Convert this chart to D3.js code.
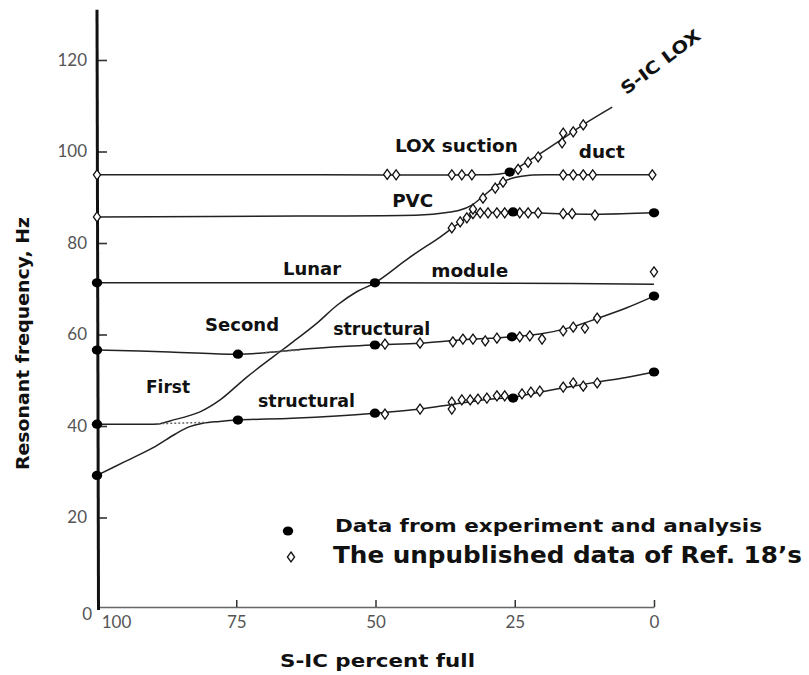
<!DOCTYPE html>
<html>
<head>
<meta charset="utf-8">
<script src="https://cdn.jsdelivr.net/npm/d3@7"></script>
<style>
  html, body { margin: 0; padding: 0; background: #fff; }
  svg { display: block; }
  .tick text { font-family: Lato, "DejaVu Sans", sans-serif; fill: #555; }
</style>
</head>
<body>
<svg id="chart" width="809" height="675"></svg>
<script>
// Axis ticks
const pctTicks = [100, 75, 50, 25, 0];
const hzTicks = [0, 20, 40, 60, 80, 100, 120];

// Mode curves: [S-IC percent full, resonant frequency Hz]
const firstStructural = [[100,29.2],[95,32.2],[90,35.2],[86,38.2],[83.5,39.8],[81,40.6],[78,41.0],[74.7,41.3],
  [65,41.7],[57,42.2],[50.1,42.8],[42,43.7],[36.3,44.7],[30,45.8],[25.3,46.3],[20.5,47.4],[15.1,48.6],[10.2,49.6],[5,50.6],[0,51.8]];
const secondStructural = [[100,56.6],[87,56.2],[74.7,55.7],[68.9,56.1],[63.6,56.7],[58.2,57.2],[50.1,57.7],[42,58.1],
  [34.8,58.8],[25.5,59.5],[20.5,60.1],[15.1,61.5],[10.2,63.5],[5,65.8],[0,68.4]];
const risingMode = [[100,40.4],[92,40.4],[88.7,40.5],[86.9,41.1],[81.5,43.1],[77.9,45.7],[73.1,50.7],[68.4,55.1],[64.8,58.4],
  [60.5,62.5],[56.9,66.4],[53.3,69.4],[50.1,71.3],[43.8,76.9],[38.4,81.3],[36.3,83.2],[34.5,84.8],[33,85.9],[31.2,86.5],
  [28,86.7],[24.1,86.7],[16.9,86.4],[9.7,86.3],[0,86.6]];
const lunarModule = [[100,71.3],[75,71.3],[50.1,71.3],[25,71.2],[0,71.0]];
const pvcMode = [[100,85.7],[63.6,85.9],[42,86.1],[37.5,86.6],[34.8,87.2],[32.7,88.3],[30.7,90.2],[28.9,92.0],
  [27.1,93.4],[25,94.3],[22.3,94.8],[18,94.9],[0,94.9]];
const loxSuction = [[100,94.9],[60,94.9],[31.2,94.9],[27.6,95.1],[25.9,95.5],[24.1,96.7],[20.5,99.5],[16.9,102.4],
  [12.4,106.1],[7.5,109.7]];
const uncoupledDotted = [[[89,40.5],[80.5,40.8]], [[70.5,56.0],[63.5,56.6]]];

// Measured points
const experimentPts = [[100,71.3],[100,56.6],[100,40.4],[100,29.2],[74.7,55.7],[74.7,41.3],
  [50.1,71.3],[50.1,57.7],[50.1,42.8],[25.9,95.5],[25.3,86.8],[25.5,59.5],[25.3,46.1],
  [0,86.6],[0,68.4],[0,51.8]];
const refPts = [
  [100,94.9],[47.9,95.0],[46.3,94.9],[36.3,94.9],[34.5,94.9],[32.7,94.9],
  [16.3,94.9],[14.5,94.9],[12.7,94.9],[11.0,94.9],[0.3,94.9],
  [100,85.7],[36.3,83.3],[34.8,84.6],[33.6,85.5],[32.5,86.4],[31.2,86.6],[29.8,86.6],[28.2,86.6],[26.8,86.6],
  [24.1,86.6],[22.6,86.6],[20.8,86.6],[16.3,86.4],[14.7,86.4],[10.6,86.1],
  [32.5,87.4],[30.7,89.8],[28.5,92.0],[27.1,93.3],
  [24.4,96.1],[22.6,97.6],[20.8,98.8],[16.5,101.9],[16.3,104.0],[14.5,104.3],[12.7,105.8],
  [0,73.7],
  [48.3,57.9],[42.0,58.1],[36.1,58.4],[34.3,59.0],[32.5,59.0],[30.3,58.6],[28.2,59.2],[24.1,59.5],[22.3,59.7],
  [20.1,59.0],[16.3,60.8],[14.5,61.6],[12.4,61.4],[10.2,63.6],
  [48.3,42.6],[42.0,43.7],[36.3,45.2],[36.3,43.7],[34.5,45.7],[33.0,45.7],[31.6,45.9],[30.0,46.1],[28.2,46.6],
  [26.8,46.6],[23.7,47.0],[22.1,47.4],[20.5,47.6],[16.3,48.5],[14.5,49.4],[12.7,48.7],[10.2,49.4]
];

// Curve labels anchored in data units
const curveLabels = [
  {text: "LOX suction", p: 46.5, hz: 99.9, w: 123},
  {text: "duct", p: 13.5, hz: 98.6, w: 46},
  {text: "PVC", p: 47.0, hz: 87.9, w: 41},
  {text: "Lunar", p: 66.6, hz: 73.0, w: 58},
  {text: "module", p: 40.0, hz: 72.6, w: 77},
  {text: "Second", p: 80.6, hz: 60.8, w: 74},
  {text: "structural", p: 57.6, hz: 59.9, w: 97},
  {text: "First", p: 91.2, hz: 47.2, w: 44},
  {text: "structural", p: 71.1, hz: 44.2, w: 97}
];
const legendItems = ["Data from experiment and analysis", "The unpublished data of Ref. 18\u2019s"];

const svg = d3.select("#chart");
const x = d3.scaleLinear().domain([100, 0]).range([97, 654]);
const y = d3.scaleLinear().domain([0, 120]).range([609, 60]);

// X axis
const xAxis = svg.append("g")
  .attr("transform", `translate(0,${y(0) - 2})`)
  .call(d3.axisBottom(x).tickValues(pctTicks).tickSizeInner(-7).tickSizeOuter(0).tickPadding(9));
xAxis.select(".domain").attr("stroke", "#666").attr("stroke-width", 1.5);
xAxis.selectAll(".tick line").attr("stroke", "#333").attr("stroke-width", 1.5);
xAxis.selectAll(".tick text").attr("font-size", 17);
xAxis.selectAll(".tick").filter(d => d === 100).select("line").remove();
xAxis.selectAll(".tick").filter(d => d === 100).select("text").attr("x", 19);

// Y axis
const yAxis = svg.append("g")
  .attr("transform", `translate(${x(100)},0)`)
  .call(d3.axisLeft(y).tickValues(hzTicks).tickSizeInner(-10).tickSizeOuter(0).tickPadding(8));
yAxis.select(".domain").remove();
yAxis.selectAll(".tick line").attr("stroke", "#333").attr("stroke-width", 1.6);
yAxis.selectAll(".tick text").attr("font-size", 17).attr("x", -10);
yAxis.selectAll(".tick").filter(d => d === 0).select("line").remove();
yAxis.selectAll(".tick").filter(d => d === 0).select("text").attr("dy", "0.6em").attr("x", -5);
svg.append("line")
  .attr("x1", x(100)).attr("x2", x(100) + 1.5)
  .attr("y1", y(131)).attr("y2", y(0) + 1)
  .attr("stroke", "#111").attr("stroke-width", 3);

// Curves
const line = d3.line().x(d => x(d[0])).y(d => y(d[1])).curve(d3.curveCatmullRom.alpha(0.5));
const curves = [firstStructural, secondStructural, risingMode, lunarModule, pvcMode, loxSuction];
svg.append("g").selectAll("path").data(curves).join("path")
  .attr("d", line).attr("fill", "none").attr("stroke", "#222").attr("stroke-width", 1.5);
svg.append("g").selectAll("path").data(uncoupledDotted).join("path")
  .attr("d", d3.line().x(d => x(d[0])).y(d => y(d[1])))
  .attr("fill", "none").attr("stroke", "#666").attr("stroke-width", 1.5).attr("stroke-dasharray", "2,2");

// Markers
const diamond = "M0,-5L3.6,0L0,5L-3.6,0Z";
svg.append("g").selectAll("path").data(refPts).join("path")
  .attr("d", diamond)
  .attr("transform", d => `translate(${x(d[0])},${y(d[1])})`)
  .attr("fill", "#fff").attr("stroke", "#111").attr("stroke-width", 1.3);
svg.append("g").selectAll("ellipse").data(experimentPts).join("ellipse")
  .attr("cx", d => x(d[0])).attr("cy", d => y(d[1]))
  .attr("rx", 5.2).attr("ry", 4.6).attr("fill", "#000");

// Curve labels
const labelFont = "'DejaVu Sans', 'Open Sans', sans-serif";
svg.append("g").selectAll("text").data(curveLabels).join("text")
  .attr("x", d => x(d.p)).attr("y", d => y(d.hz))
  .attr("textLength", d => d.w).attr("lengthAdjust", "spacingAndGlyphs")
  .attr("font-family", labelFont).attr("font-weight", "bold").attr("font-size", 17)
  .attr("fill", "#111").text(d => d.text);
svg.append("text")
  .attr("transform", `translate(${x(5.0)},${y(112.3)}) rotate(-37)`)
  .attr("textLength", 95).attr("lengthAdjust", "spacingAndGlyphs")
  .attr("font-family", labelFont).attr("font-weight", "bold").attr("font-size", 17)
  .attr("fill", "#111").text("S-IC LOX");

// Axis titles
svg.append("text")
  .attr("transform", `translate(29,470) rotate(-90)`)
  .attr("textLength", 253).attr("lengthAdjust", "spacingAndGlyphs")
  .attr("font-family", labelFont).attr("font-weight", "bold").attr("font-size", 18)
  .attr("fill", "#111").text("Resonant frequency, Hz");
svg.append("text")
  .attr("x", 280).attr("y", 667)
  .attr("textLength", 195).attr("lengthAdjust", "spacingAndGlyphs")
  .attr("font-family", labelFont).attr("font-weight", "bold").attr("font-size", 18)
  .attr("fill", "#111").text("S-IC percent full");

// Legend
const lg = svg.append("g");
lg.append("ellipse").attr("cx", 288).attr("cy", 531).attr("rx", 5.2).attr("ry", 4.6).attr("fill", "#000");
lg.append("path").attr("d", diamond).attr("transform", "translate(291,557)")
  .attr("fill", "#fff").attr("stroke", "#111").attr("stroke-width", 1.3);
lg.append("text").attr("x", 335).attr("y", 532)
  .attr("textLength", 427).attr("lengthAdjust", "spacingAndGlyphs")
  .attr("font-family", labelFont).attr("font-weight", "bold").attr("font-size", 18)
  .attr("fill", "#111").text(legendItems[0]);
lg.append("text").attr("x", 333).attr("y", 563)
  .attr("textLength", 469).attr("lengthAdjust", "spacingAndGlyphs")
  .attr("font-family", labelFont).attr("font-weight", "bold").attr("font-size", 23)
  .attr("fill", "#111").text(legendItems[1]);
</script>
</body>
</html>
